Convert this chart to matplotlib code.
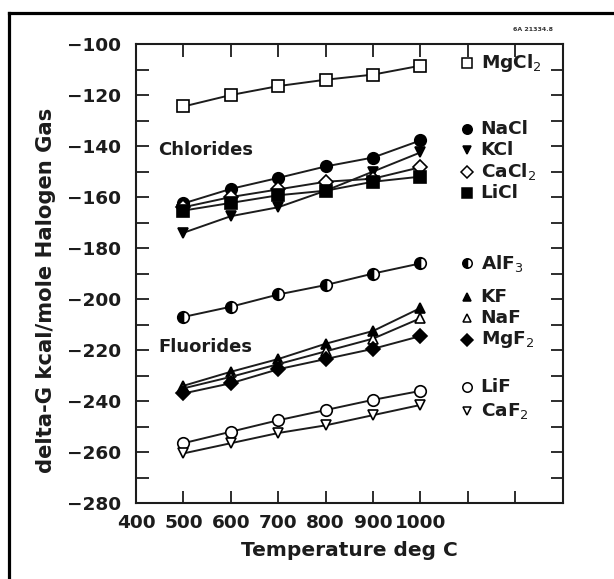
import numpy as np
import matplotlib.pyplot as plt
from matplotlib.lines import Line2D
from matplotlib.ticker import MultipleLocator, FixedLocator

# temperature, deg C
temps = [500, 600, 700, 800, 900, 1000]

# delta-G kcal/mole halogen gas
mgcl2 = [-124.5, -120, -116.5, -114, -112, -108.5]
nacl = [-162.5, -156.8, -152.5, -148, -144.5, -137.8]
kcl = [-174, -167.5, -164, -157.5, -150, -142.5]
cacl2 = [-164, -160, -157, -154, -152.8, -148.3]
licl = [-165.3, -162.3, -159.3, -157.5, -154, -152]

alf3 = [-207, -203, -198.2, -194.5, -190, -186]
kf = [-234, -228.5, -223.5, -217.5, -212.5, -203.5]
naf = [-235, -230.5, -225.5, -220.5, -215.5, -207.5]
mgf2 = [-237, -233, -227.5, -223.5, -219.5, -214.5]
lif = [-256.5, -252, -247.5, -243.5, -239.5, -236]
caf2 = [-260.5, -256.5, -252.5, -249.5, -245.5, -241.5]

# name, values, marker, filled, legend y (data units)
series = [
    ("MgCl$_2$", mgcl2, "s", False, -107.5),
    ("NaCl", nacl, "o", True, -133.5),
    ("KCl", kcl, "v", True, -141.5),
    ("CaCl$_2$", cacl2, "D", False, -150),
    ("LiCl", licl, "s", True, -158.3),
    ("AlF$_3$", alf3, "o", "half", -186),
    ("KF", kf, "^", True, -199),
    ("NaF", naf, "^", False, -207.3),
    ("MgF$_2$", mgf2, "D", True, -216),
    ("LiF", lif, "o", False, -234.5),
    ("CaF$_2$", caf2, "v", False, -244),
]

plt.rcParams['font.family'] = ['DejaVu Sans']
ink = "#1c1c1c"

fig = plt.figure(figsize=(6.14, 5.79), dpi=100)
ax = fig.add_axes([0.2215, 0.131, 0.695, 0.793])

msize = {"s": 8.3, "o": 8.3, "v": 7.8, "^": 7.8, "D": 7.3}
legsize = {"s": 6.8, "o": 6.8, "v": 6.0, "^": 6.0, "D": 6.3}

for name, vals, mk, filled, ly in series:
    if filled == "half":
        kw = dict(markerfacecolor="black", fillstyle="left",
                  markerfacecoloralt="white")
    elif filled:
        kw = dict(markerfacecolor="black")
    else:
        kw = dict(markerfacecolor="white")
    ax.plot(temps, vals, color=ink, lw=1.4, marker=mk,
            ms=msize[mk], markeredgecolor="black", markeredgewidth=1.2,
            zorder=3, **kw)
    # legend entry
    ax.plot([1098], [ly], marker=mk, ms=legsize[mk], color="black",
            markeredgewidth=1.1, clip_on=False, **kw)
    ax.text(1127, ly, name, fontsize=13.3, fontweight="bold",
            va="center", ha="left", color=ink)

ax.text(447, -141.5, "Chlorides", fontsize=13, fontweight="bold",
        va="center", ha="left", color=ink)
ax.text(447, -218.8, "Fluorides", fontsize=13, fontweight="bold",
        va="center", ha="left", color=ink)

ax.set_xlim(400, 1300)
ax.set_ylim(-280, -100)
ax.xaxis.set_major_locator(FixedLocator([400, 500, 600, 700, 800, 900, 1000]))
ax.xaxis.set_minor_locator(FixedLocator([1100, 1200]))
ax.yaxis.set_major_locator(MultipleLocator(20))
ax.yaxis.set_minor_locator(MultipleLocator(10))
ax.set_yticklabels([f"\u2212{abs(int(v))}" for v in ax.get_yticks()])

ax.tick_params(which="both", direction="in", top=True, right=True,
               length=9, width=1.3, color=ink)
ax.tick_params(axis="both", labelsize=13.3, labelcolor=ink)
ax.tick_params(axis="x", pad=8)
ax.tick_params(axis="y", pad=11)
for lab in ax.get_xticklabels() + ax.get_yticklabels():
    lab.set_fontweight("bold")
for sp in ax.spines.values():
    sp.set_linewidth(1.5)
    sp.set_color(ink)

ax.set_xlabel("Temperature deg C", fontsize=14.5, fontweight="bold",
              color=ink, labelpad=6)
ax.set_ylabel("delta-G kcal/mole Halogen Gas", fontsize=15.2,
              fontweight="bold", color=ink)
ax.yaxis.set_label_coords(-0.187, 0.463)

fig.text(0.868, 0.949, "6A 21334.8", fontsize=4.5, fontweight="bold",
         ha="center", va="center", color="#333333")

# frame lines of the scanned page
fig.add_artist(Line2D([0.0146, 0.0146], [0, 0.9775], color="black",
                      lw=2.3, transform=fig.transFigure))
fig.add_artist(Line2D([0.0146, 1.0], [0.9775, 0.9775], color="black",
                      lw=2.3, transform=fig.transFigure))

fig.savefig("out.png", dpi=100)
